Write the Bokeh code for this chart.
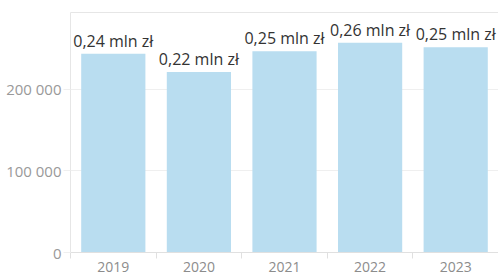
import numpy as np
from bokeh.plotting import figure
from bokeh.models import ColumnDataSource, FixedTicker, CustomJSTickFormatter, Range1d, LinearAxis
from bokeh.core.properties import value
from bokeh.embed import file_html
from bokeh.resources import INLINE

years = ["2019", "2020", "2021", "2022", "2023"]
values = [243500, 221000, 246500, 256800, 251500]
y_ticks = [0, 100000, 200000]

centers = np.arange(len(years)) + 0.5
bounds = list(np.arange(len(years) + 1).astype(float))
labels = [f"{v/1e6:.2f}".replace(".", ",") + " mln zł" for v in values]

src = ColumnDataSource(dict(x=centers, top=values, label=labels))

FONT = "Open Sans"

p = figure(width=498, height=276, output_backend="svg", toolbar_location=None,
           x_range=Range1d(0, len(years)), y_range=Range1d(0, 294000),
           min_border_left=70, min_border_right=0, min_border_top=12, min_border_bottom=24)

p.vbar(x="x", top="top", width=0.75, bottom=0, source=src,
       fill_color="#b9ddf0", line_color=None)
p.text(x="x", y="top", text="label", source=src, text_align="center",
       text_baseline="bottom", y_offset=-2, text_font=value(FONT),
       text_font_size="16px", text_color="#333333")

p.outline_line_color = None

xa = p.below[0]
ya = p.left[0]

top_axis = LinearAxis(ticker=FixedTicker(ticks=[], minor_ticks=[]), axis_line_color="#e6e6e6",
                      major_tick_out=0, major_tick_in=0, minor_tick_out=0, minor_tick_in=0,
                      major_label_text_font_size="0px", major_label_standoff=0)
p.add_layout(top_axis, "above")

p.xgrid.visible = False
p.ygrid.grid_line_color = "#efefef"
p.ygrid.ticker = FixedTicker(ticks=y_ticks)

xa.ticker = FixedTicker(ticks=list(centers), minor_ticks=bounds)
xa.major_label_overrides = {float(c): y for c, y in zip(centers, years)}
xa.major_tick_out = 0
xa.major_tick_in = 0
xa.minor_tick_out = 6
xa.minor_tick_in = 0
xa.minor_tick_line_color = "#e0e0e0"
xa.axis_line_color = "#e0e0e0"
xa.major_label_text_font = FONT
xa.major_label_text_font_size = "14px"
xa.major_label_text_color = "#8c8c8c"
xa.major_label_standoff = 3

ya.ticker = FixedTicker(ticks=y_ticks)
ya.formatter = CustomJSTickFormatter(code="""
return Math.round(tick).toString().replace(/\\B(?=(\\d{3})+(?!\\d))/g, " ");
""")
ya.major_tick_out = 7
ya.major_tick_in = 0
ya.minor_tick_out = 0
ya.minor_tick_in = 0
ya.major_tick_line_color = "#efefef"
ya.axis_line_color = "#e6e6e6"
ya.major_label_text_font = FONT
ya.major_label_text_font_size = "15px"
ya.major_label_text_color = "#999999"
ya.major_label_standoff = 2

open("out.html", "w").write(file_html(p, INLINE))
